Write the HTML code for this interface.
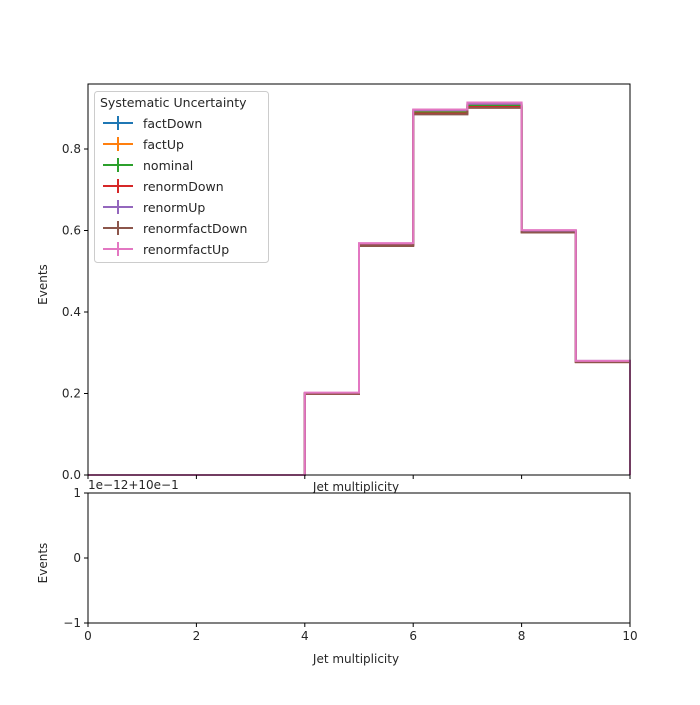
<!DOCTYPE html>
<html><head><meta charset="utf-8"><style>
body{margin:0;background:#fff;}
svg text{font-family:"DejaVu Sans","Liberation Sans",sans-serif;fill:#262626;}
</style></head><body>
<svg id="chart" width="700" height="700" xmlns="http://www.w3.org/2000/svg">
<rect width="700" height="700" fill="#fff"/>
<g id="main"></g>
<g id="ratio"></g>
<g id="legend"></g>
</svg>
<script>
const binEdges = [0,1,2,3,4,5,6,7,8,9,10];
const seriesNames = ["factDown","factUp","nominal","renormDown","renormUp","renormfactDown","renormfactUp"];
const seriesColors = ["#1f77b4","#ff7f0e","#2ca02c","#d62728","#9467bd","#8c564b","#e377c2"];
const factDown = [0,0,0,0,0.200,0.565,0.890,0.906,0.598,0.279];
const factUp = [0,0,0,0,0.201,0.566,0.892,0.908,0.599,0.279];
const nominal = [0,0,0,0,0.200,0.565,0.890,0.906,0.598,0.278];
const renormDown = [0,0,0,0,0.199,0.563,0.887,0.903,0.597,0.277];
const renormUp = [0,0,0,0,0.201,0.568,0.895,0.911,0.600,0.280];
const renormfactDown = [0,0,0,0,0.199,0.562,0.885,0.901,0.595,0.277];
const renormfactUp = [0,0,0,0,0.202,0.569,0.897,0.914,0.601,0.280];
const seriesValues = [factDown,factUp,nominal,renormDown,renormUp,renormfactDown,renormfactUp];
const mainYTicks = [0,0.2,0.4,0.6,0.8];
const xTicks = [0,2,4,6,8,10];
const ratioYTicks = [-1,0,1];

const NS="http://www.w3.org/2000/svg";
const L=88,R=630,MT=84,MB=475,RT=493,RB=623;
const xS=v=>L+(v-0)/(10-0)*(R-L);
const yS=v=>MB-v/0.9595*(MB-MT);
const yR=v=>RB-(v+1)/2*(RB-RT);
function mk(p,tag,a){const e=document.createElementNS(NS,tag);for(const k in a)e.setAttribute(k,a[k]);p.appendChild(e);return e;}
const main=document.getElementById('main'),ratio=document.getElementById('ratio'),leg=document.getElementById('legend');

// series
seriesValues.forEach((vals,si)=>{
  let d=`M${xS(binEdges[0])},${yS(vals[0])}`;
  for(let i=0;i<vals.length;i++){
    d+=` L${xS(binEdges[i])},${yS(vals[i])} L${xS(binEdges[i+1])},${yS(vals[i])}`;
  }
  d+=` L${xS(binEdges[vals.length])},${yS(0)}`;
  const p=mk(main,'path',{d:d,fill:'none',stroke:seriesColors[si],'stroke-width':2});
  
  
});
// main frame
let f=mk(main,'rect',{x:L,y:MT,width:R-L,height:MB-MT,fill:'none',stroke:'#000','stroke-width':1});


mainYTicks.forEach(t=>{
  const y=yS(t);
  mk(main,'line',{x1:L-4,x2:L,y1:y,y2:y,stroke:'#000'});
  const tx=mk(main,'text',{x:L-7,y:y+4,'font-size':12,'text-anchor':'end'});
  tx.textContent=t.toFixed(1);
  
  
});
xTicks.forEach(t=>{
  const x=xS(t);
  mk(main,'line',{x1:x,x2:x,y1:MB,y2:MB+4,stroke:'#000'});
});
let t1=mk(main,'text',{x:42,y:(MT+MB)/2,'font-size':12,'text-anchor':'middle',transform:`rotate(-90 47 ${(MT+MB)/2})`});
t1.textContent='Events';
let t2=mk(main,'text',{x:356,y:491,'font-size':12,'text-anchor':'middle'});
t2.textContent='Jet multiplicity';
let t3=mk(main,'text',{x:88,y:489,'font-size':12});
t3.textContent='1e\u221212+10e\u22121';

// ratio
let f2=mk(ratio,'rect',{x:L,y:RT,width:R-L,height:RB-RT,fill:'none',stroke:'#000'});

ratioYTicks.forEach(t=>{
  const y=yR(t);
  mk(ratio,'line',{x1:L-4,x2:L,y1:y,y2:y,stroke:'#000'});
  const tx=mk(ratio,'text',{x:L-7,y:y+4,'font-size':12,'text-anchor':'end'});
  tx.textContent=t<0?'\u2212'+Math.abs(t):String(t);
  
});
xTicks.forEach(t=>{
  const x=xS(t);
  mk(ratio,'line',{x1:x,x2:x,y1:RB,y2:RB+4,stroke:'#000'});
  const tx=mk(ratio,'text',{x:x,y:RB+17,'font-size':12,'text-anchor':'middle'});
  tx.textContent=String(t);
  
});
let t4=mk(ratio,'text',{x:42,y:(RT+RB)/2,'font-size':12,'text-anchor':'middle',transform:`rotate(-90 47 ${(RT+RB)/2})`});
t4.textContent='Events';
let t5=mk(ratio,'text',{x:356,y:663,'font-size':12,'text-anchor':'middle'});
t5.textContent='Jet multiplicity';

// legend
let lb=mk(leg,'rect',{x:94.5,y:91.5,width:174,height:171,rx:3,fill:'#fff','fill-opacity':0.8,stroke:'#ccc'});

let lt=mk(leg,'text',{x:100,y:107,'font-size':12.5});
lt.textContent='Systematic Uncertainty';
seriesNames.forEach((n,i)=>{
  const y=123+i*21;
  const g=mk(leg,'g',{});
  
  
  mk(g,'line',{x1:103,x2:133,y1:y,y2:y,stroke:seriesColors[i],'stroke-width':2});
  mk(g,'line',{x1:118,x2:118,y1:y-7,y2:y+7,stroke:seriesColors[i],'stroke-width':2});
  const tx=mk(g,'text',{x:143,y:y+5,'font-size':12.5});
  tx.textContent=n;
});
</script>
</body></html>
